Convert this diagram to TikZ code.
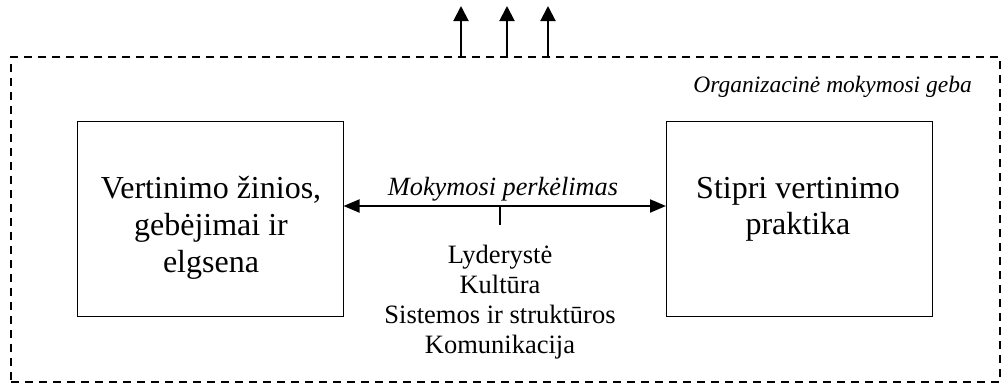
\documentclass[tikz,border=0pt]{standalone}
\usepackage{fontspec}
\setmainfont{Liberation Serif}
\usetikzlibrary{arrows.meta}
\begin{document}
\begin{tikzpicture}[x=1pt,y=-1pt,
  box/.style={draw,line width=1pt,inner sep=0pt,minimum height=195pt},
  frame/.style={draw,line width=1.5pt,dash pattern=on 8pt off 6pt,inner sep=0pt,minimum width=989pt,minimum height=325pt},
  uparrow/.style={line width=2pt,-{Triangle[length=15pt,width=15pt]}},
  dblarrow/.style={line width=2pt,{Triangle[length=16pt,width=13pt]}-{Triangle[length=16pt,width=13pt]}},
  tick/.style={line width=1.5pt},
  bigtxt/.style={anchor=base,inner sep=0pt,font=\fontsize{32}{35}\selectfont},
  listtxt/.style={anchor=base,inner sep=0pt,font=\fontsize{26.5}{27}\selectfont},
  ittxt/.style={inner sep=0pt,font=\itshape\fontsize{26.3}{28}\selectfont}
]
\useasboundingbox (0,0) rectangle (1006,384);
% outer dashed frame
\node[frame] (F) at (505.5,219.5) {};
% boxes
\node[box,minimum width=266pt] (L) at (210,218.5) {};
\node[box,minimum width=266pt] (R) at (799.5,218.5) {};
% up arrows
\coordinate (u1) at (461,6);
\coordinate (u2) at (507,6);
\coordinate (u3) at (548,6);
\draw[uparrow] (F.north -| u1) -- (u1);
\draw[uparrow] (F.north -| u2) -- (u2);
\draw[uparrow] (F.north -| u3) -- (u3);
% frame label
\node[ittxt,anchor=base east,font=\itshape\fontsize{23.5}{26}\selectfont] (org) at (972,92) {Organizacinė mokymosi geba};
% left box text
\node[bigtxt] (l1) at (211,198) {Vertinimo žinios,};
\node[bigtxt] (l2) at (211,235) {gebėjimai ir};
\node[bigtxt] (l3) at (211,272) {elgsena};
% right box text
\node[bigtxt] (r1) at (798,198) {Stipri vertinimo};
\node[bigtxt] (r2) at (798,234) {praktika};
% double arrow
\coordinate (ar) at (500,206);
\coordinate (tk) at (500,225);
\draw[dblarrow] (L.east |- ar) -- (R.west |- ar);
\draw[tick] (ar) -- (tk);
\node[ittxt,anchor=base] (mp) at (503,195) {Mokymosi perkėlimas};
% list
\node[listtxt] (k1) at (500,263) {Lyderystė};
\node[listtxt] (k2) at (500,293) {Kultūra};
\node[listtxt] (k3) at (500,323) {Sistemos ir struktūros};
\node[listtxt] (k4) at (500,353) {Komunikacija};
\end{tikzpicture}
\end{document}
